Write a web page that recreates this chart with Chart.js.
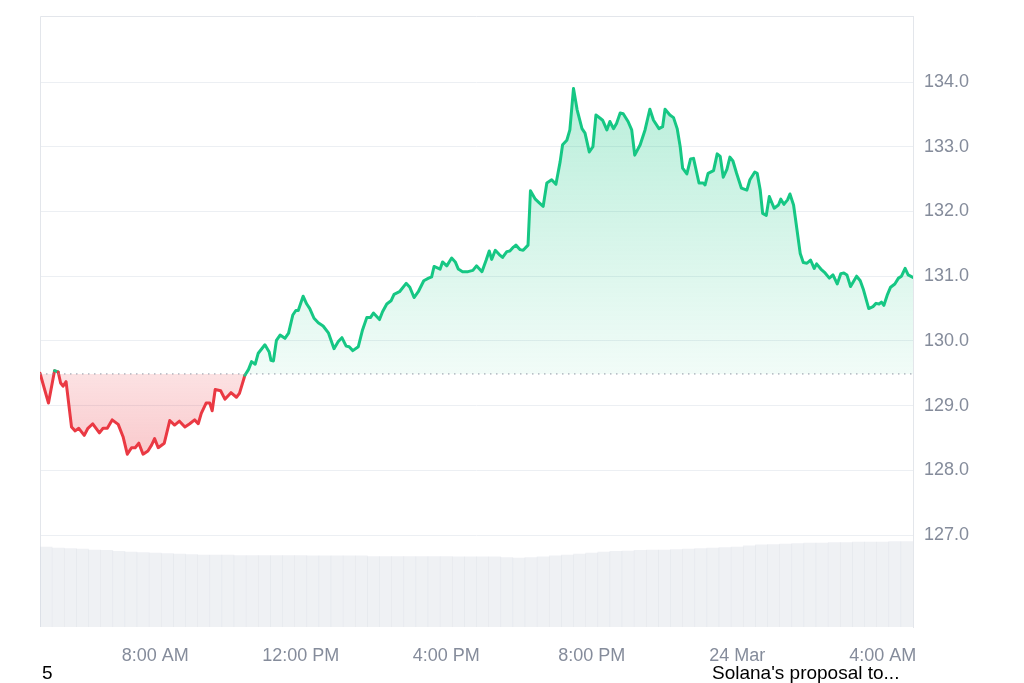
<!DOCTYPE html>
<html>
<head>
<meta charset="utf-8">
<script src="https://cdn.jsdelivr.net/npm/chart.js@4"></script>
<style>
  html, body { margin: 0; padding: 0; background: #ffffff; }
  body { width: 1024px; height: 683px; position: relative; overflow: hidden; font-family: "Liberation Sans", Arial, sans-serif; }
  #wrap { position: absolute; left: 0; top: 0; width: 1024px; height: 683px; }
  .note { position: absolute; font-size: 19px; color: #000; line-height: 22px; white-space: nowrap; z-index: 2; }
</style>
</head>
<body>
<div id="wrap"><canvas id="c" width="1024" height="683"></canvas></div>
<div class="note" style="left:42px; top:662px;">5</div>
<div class="note" style="left:712px; top:662px;">Solana's proposal to...</div>
<script>
// ---- data (minutes since 23 Mar 00:00) ----
const times = [
  290,304,314,320,324,328,333,342,348,354,
  363,369,377,388,394,401,409,419,427,434,
  441,447,453,460,468,474,479,485,495,504,
  512,520,529,537,545,551,556,564,570,574,
  579,588,595,605,614,619,628,634,639,645,
  650,661,668,671,675,680,686,694,700,707,
  712,716,724,730,735,742,749,757,766,775,
  782,788,795,800,806,815,822,829,835,840,
  845,850,855,862,869,874,883,894,900,907,
  914,923,931,936,940,950,954,961,969,975,
  980,987,996,1004,1010,1019,1026,1031,1035,1041,
  1048,1053,1060,1065,1071,1075,1082,1087,1095,1099,
  1107,1114,1120,1126,1134,1141,1148,1152,1159,1164,
  1170,1176,1184,1189,1196,1202,1207,1214,1218,1225,
  1230,1236,1241,1247,1252,1260,1266,1271,1280,1288,
  1296,1302,1311,1317,1321,1329,1335,1341,1346,1350,
  1357,1363,1368,1377,1384,1387,1392,1401,1407,1412,
  1417,1423,1428,1433,1439,1447,1456,1461,1469,1473,
  1478,1482,1488,1493,1501,1508,1512,1517,1523,1527,
  1533,1538,1544,1549,1555,1561,1567,1571,1578,1585,
  1592,1598,1605,1611,1616,1621,1627,1637,1643,1648,
  1657,1664,1669,1674,1678,1682,1688,1693,1700,1706,
  1711,1717,1722,1730
];
const prices = [
  129.50,129.04,129.54,129.52,129.35,129.30,129.37,128.67,128.61,128.65,
  128.54,128.65,128.72,128.58,128.65,128.65,128.78,128.71,128.52,128.25,
  128.35,128.35,128.42,128.25,128.30,128.39,128.49,128.35,128.42,128.77,
  128.70,128.76,128.67,128.72,128.78,128.72,128.88,129.04,129.04,128.92,
  129.25,129.23,129.10,129.20,129.13,129.19,129.47,129.56,129.68,129.64,
  129.81,129.94,129.83,129.70,129.69,130.01,130.09,130.04,130.12,130.40,
  130.47,130.47,130.69,130.57,130.50,130.35,130.28,130.23,130.12,129.88,
  129.99,130.05,129.92,129.91,129.85,129.91,130.17,130.36,130.36,130.43,
  130.38,130.33,130.45,130.57,130.62,130.72,130.76,130.89,130.83,130.67,
  130.76,130.93,130.97,130.99,131.15,131.11,131.22,131.16,131.28,131.22,
  131.11,131.07,131.07,131.09,131.16,131.07,131.25,131.39,131.26,131.40,
  131.33,131.29,131.38,131.39,131.45,131.48,131.41,131.40,131.48,132.32,
  132.19,132.13,132.08,132.44,132.49,132.42,132.77,133.03,133.10,133.26,
  133.90,133.57,133.28,133.21,132.92,133.00,133.49,133.44,133.41,133.26,
  133.39,133.28,133.36,133.52,133.51,133.39,133.26,132.87,133.03,133.26,
  133.58,133.41,133.28,133.31,133.58,133.49,133.45,133.28,133.00,132.67,
  132.58,132.81,132.82,132.44,132.44,132.41,132.59,132.63,132.89,132.85,
  132.53,132.65,132.84,132.78,132.59,132.36,132.33,132.49,132.61,132.59,
  132.33,131.97,131.94,132.23,132.05,132.10,132.19,132.11,132.18,132.27,
  132.10,131.76,131.35,131.21,131.20,131.25,131.12,131.19,131.11,131.05,
  130.97,131.02,130.88,131.04,131.05,131.02,130.84,131.00,130.93,130.80,
  130.50,130.53,130.58,130.57,130.60,130.55,130.72,130.83,130.88,130.97,
  131.00,131.12,131.02,130.98
];
const baseline = 129.49;
const startTime = 290;
const endTime = 1730;
const volumeInterval = 20; // minutes per volume bar
const volumes = [
  3.93,3.88,3.85,3.83,3.78,3.76,3.71,3.68,3.66,3.63,
  3.61,3.58,3.56,3.53,3.53,3.53,3.51,3.51,3.51,3.51,
  3.51,3.51,3.49,3.49,3.49,3.49,3.49,3.46,3.46,3.46,
  3.46,3.46,3.46,3.46,3.44,3.44,3.44,3.44,3.41,3.39,
  3.41,3.44,3.49,3.53,3.58,3.63,3.68,3.71,3.73,3.76,
  3.78,3.78,3.80,3.83,3.85,3.88,3.90,3.93,3.98,4.03,
  4.05,4.07,4.10,4.12,4.12,4.15,4.15,4.17,4.17,4.17,
  4.20,4.20
];
const yTicks = [127, 128, 129, 130, 131, 132, 133, 134];
const xTickTimes = [480, 720, 960, 1200, 1440, 1680];
const xTickLabels = ['8:00 AM', '12:00 PM', '4:00 PM', '8:00 PM', '24 Mar', '4:00 AM'];

// ---- build ----
const GREEN = '#16c784';
const RED = '#ea3943';
const priceData = times.map((t, i) => ({ x: t, y: prices[i] }));
const volumeData = volumes.map((v, i) => ({ x: startTime + volumeInterval * i + volumeInterval / 2, y: v }));
const baselineData = [{ x: startTime, y: baseline }, { x: endTime, y: baseline }];
const FONT = '"Liberation Sans", Arial, sans-serif';

const frame = {
  id: 'frame',
  beforeDatasetsDraw(chart) {
    const { ctx, chartArea: a } = chart;
    ctx.save();
    ctx.strokeStyle = '#e3e6eb';
    ctx.lineWidth = 1;
    ctx.beginPath();
    ctx.moveTo(Math.round(a.left) + 0.5, a.bottom);
    ctx.lineTo(Math.round(a.left) + 0.5, Math.round(a.top) + 0.5);
    ctx.lineTo(a.right, Math.round(a.top) + 0.5);
    ctx.stroke();
    ctx.restore();
  }
};

const chart = new Chart(document.getElementById('c'), {
  type: 'line',
  data: {
    datasets: [
      {
        type: 'line',
        data: priceData,
        order: 1,
        borderWidth: 3,
        pointRadius: 0,
        tension: 0,
        borderJoinStyle: 'round',
        borderCapStyle: 'round',
        borderColor: GREEN,
        segment: {
          borderColor: c => ((c.p0.parsed.y + c.p1.parsed.y) / 2 >= baseline ? GREEN : RED)
        },
        fill: { target: { value: baseline }, above: 'rgba(22,199,132,0.15)', below: 'rgba(234,57,67,0.2)' },
        yAxisID: 'y'
      },
      {
        type: 'line',
        data: baselineData,
        order: 0,
        borderColor: '#8f96a3',
        borderWidth: 1,
        borderDash: [1.5, 4.5],
        pointRadius: 0,
        fill: false,
        yAxisID: 'y'
      },
      {
        type: 'bar',
        data: volumeData,
        order: 3,
        backgroundColor: 'rgba(207,213,224,0.34)',
        borderWidth: 0,
        barPercentage: 1,
        categoryPercentage: 1,
        yAxisID: 'y2'
      }
    ]
  },
  options: {
    responsive: false,
    animation: false,
    layout: { padding: { left: 40, top: 16, right: 0, bottom: 0 } },
    plugins: { legend: { display: false }, tooltip: { enabled: false } },
    scales: {
      x: {
        type: 'linear',
        min: startTime,
        max: endTime,
        offset: false,
        grid: { display: false, drawTicks: false },
        border: { display: false },
        afterBuildTicks: s => { s.ticks = xTickTimes.map(v => ({ value: v })); },
        afterFit: s => { s.height = 683 - 627; s.paddingLeft = 0; s.paddingRight = 0; },
        ticks: {
          autoSkip: false,
          maxRotation: 0,
          padding: 18,
          color: '#858c9b',
          font: { family: FONT, size: 18 },
          callback: v => xTickLabels[xTickTimes.indexOf(v)] ?? ''
        }
      },
      y: {
        position: 'right',
        min: 125.58,
        max: 135.02,
        grid: { color: '#eceff3', lineWidth: 1, drawTicks: false },
        border: { display: true, color: '#e3e6eb' },
        afterBuildTicks: s => { s.ticks = yTicks.map(v => ({ value: v })); },
        afterFit: s => { s.width = 1024 - 913; s.paddingTop = 0; s.paddingBottom = 0; },
        ticks: {
          padding: 11,
          color: '#858c9b',
          font: { family: FONT, size: 18 },
          callback: v => Number(v).toFixed(1)
        }
      },
      y2: {
        display: false,
        min: 0,
        max: 30
      }
    }
  },
  plugins: [frame]
});

(function applyGradients() {
  const y = chart.scales.y;
  const a = chart.chartArea;
  const ctx = chart.ctx;
  const bp = y.getPixelForValue(baseline);
  const g = ctx.createLinearGradient(0, a.top, 0, bp);
  g.addColorStop(0, 'rgba(22,199,132,0.36)');
  g.addColorStop(1, 'rgba(22,199,132,0.06)');
  const lowPix = y.getPixelForValue(Math.min(...prices));
  const r = ctx.createLinearGradient(0, bp, 0, lowPix);
  r.addColorStop(0, 'rgba(234,57,67,0.15)');
  r.addColorStop(1, 'rgba(234,57,67,0.27)');
  chart.data.datasets[0].fill = { target: { value: baseline }, above: g, below: r };
  chart.update('none');
})();
</script>
</body>
</html>
